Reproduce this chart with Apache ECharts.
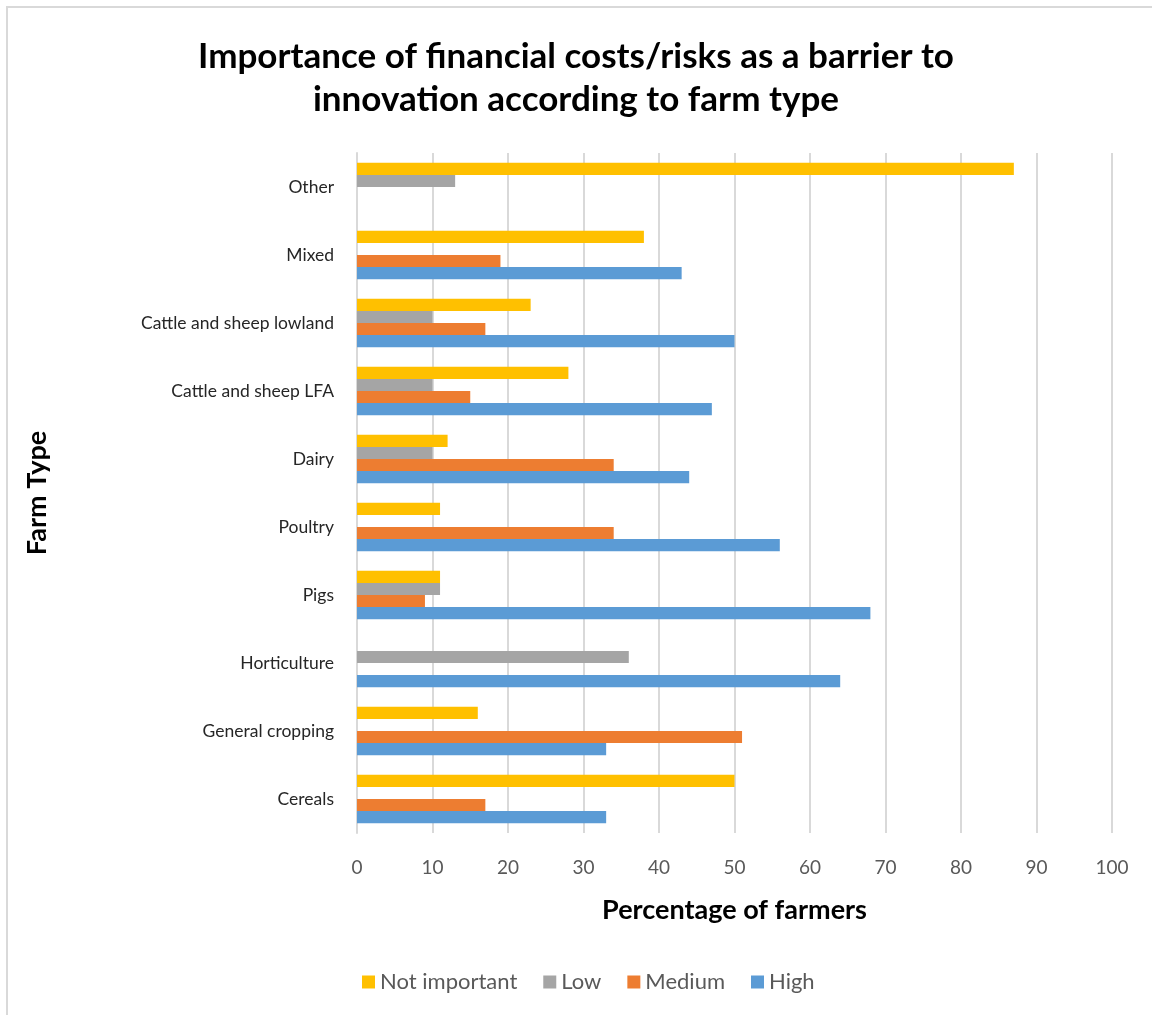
<!DOCTYPE html>
<html>
<head>
<meta charset="utf-8">
<script src="https://cdn.jsdelivr.net/npm/echarts@6/dist/echarts.min.js"></script>
<style>
  html, body { margin: 0; padding: 0; background: #fff; }
  #chart { width: 1152px; height: 1015px; }
</style>
</head>
<body>
<div id="chart"></div>
<script>
// Farm types, bottom to top on the category axis
const farmTypes = ['Cereals', 'General cropping', 'Horticulture', 'Pigs', 'Poultry',
  'Dairy', 'Cattle and sheep LFA', 'Cattle and sheep lowland', 'Mixed', 'Other'];

// Percentage of farmers rating financial costs/risks at each level (null = no bar)
const notImportant = [50, 16, null, 11, 11, 12, 28, 23, 38, 87];
const low          = [null, null, 36, 11, null, 10, 10, 10, null, 13];
const medium       = [17, 51, null, 9, 34, 34, 15, 17, 19, null];
const high         = [33, 33, 64, 68, 56, 44, 47, 50, 43, null];

const xTicks = [0, 100, 10]; // min, max, step

const colors = { 'Not important': '#FFC000', 'Low': '#A5A5A5', 'Medium': '#ED7D31', 'High': '#5B9BD5' };

const font = 'Lato, "Open Sans", sans-serif';

function barSeries(name, data) {
  return {
    name: name,
    type: 'bar',
    data: data,
    barGap: '0%',
    barCategoryGap: '29%',
    itemStyle: { color: colors[name] },
    emphasis: { disabled: true }
  };
}

const chart = echarts.init(document.getElementById('chart'), null, { renderer: 'canvas' });
chart.setOption({
  animation: false,
  backgroundColor: '#fff',
  title: {
    text: 'Importance of financial costs/risks as a barrier to\ninnovation according to farm type',
    left: 'center',
    top: 30,
    textStyle: { fontFamily: font, fontWeight: 'bold', fontSize: 35, color: '#000', lineHeight: 43 }
  },
  legend: {
    data: ['Not important', 'Low', 'Medium', 'High'],
    left: 357,
    top: 966,
    icon: 'rect',
    itemWidth: 13,
    itemHeight: 13,
    itemGap: 26,
    textStyle: { fontFamily: font, fontSize: 22, color: '#595959' }
  },
  grid: { left: 357, right: 40, top: 153, bottom: 182, containLabel: false },
  xAxis: {
    type: 'value',
    min: xTicks[0],
    max: xTicks[1],
    interval: xTicks[2],
    name: 'Percentage of farmers',
    nameLocation: 'middle',
    nameGap: 64,
    nameTextStyle: { fontFamily: font, fontWeight: 'bold', fontSize: 27, color: '#000' },
    axisLine: { show: false },
    axisTick: { show: false },
    axisLabel: { fontFamily: font, fontSize: 19, color: '#595959', margin: 25 },
    splitLine: { lineStyle: { color: '#d9d9d9', width: 2 } }
  },
  yAxis: {
    type: 'category',
    data: farmTypes,
    name: 'Farm Type',
    nameLocation: 'middle',
    nameGap: 306,
    nameRotate: 90,
    nameTextStyle: { fontFamily: font, fontWeight: 'bold', fontSize: 27, color: '#000' },
    axisLine: { show: true, lineStyle: { color: '#d9d9d9', width: 2 } },
    axisTick: { show: false },
    axisLabel: { fontFamily: font, fontSize: 17.5, color: '#262626', margin: 23 }
  },
  series: [
    barSeries('Not important', notImportant),
    barSeries('Low', low),
    barSeries('Medium', medium),
    barSeries('High', high)
  ],
  graphic: [{
    type: 'rect',
    shape: { x: 7, y: 7, width: 1200, height: 1100 },
    style: { fill: 'none', stroke: '#d9d9d9', lineWidth: 2 },
    silent: true
  }]
});
</script>
</body>
</html>
